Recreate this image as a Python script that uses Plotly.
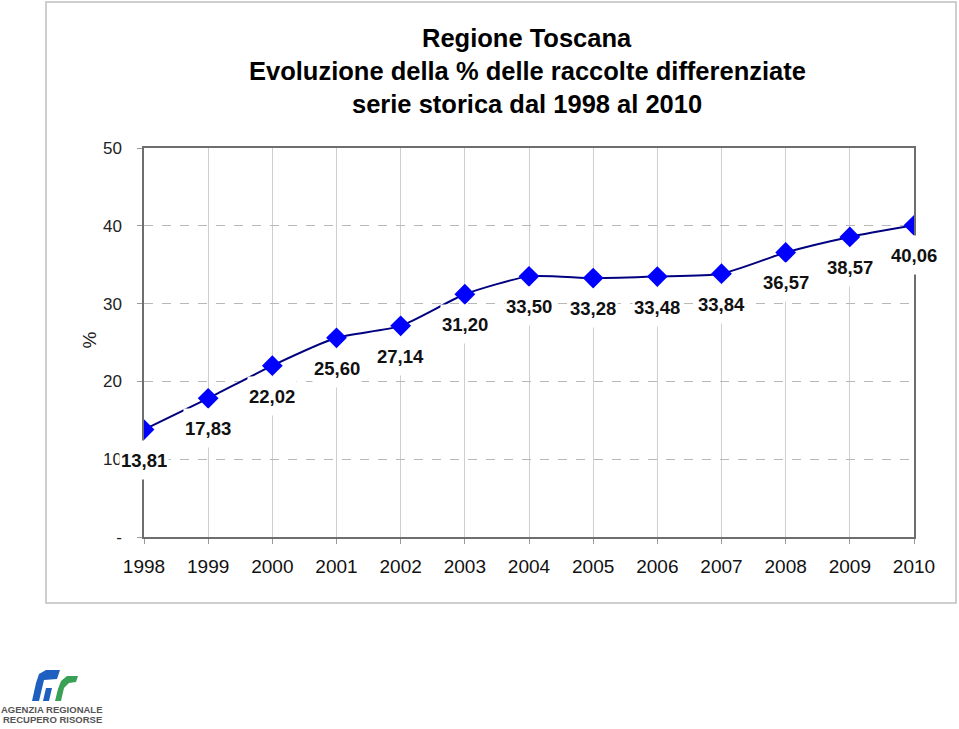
import plotly.graph_objects as go

years = [1998, 1999, 2000, 2001, 2002, 2003, 2004, 2005, 2006, 2007, 2008, 2009, 2010]
values = [13.81, 17.83, 22.02, 25.60, 27.14, 31.20, 33.50, 33.28, 33.48, 33.84, 36.57, 38.57, 40.06]
value_labels = ["13,81", "17,83", "22,02", "25,60", "27,14", "31,20", "33,50", "33,28", "33,48", "33,84", "36,57", "38,57", "40,06"]
y_ticks = [0, 10, 20, 30, 40, 50]
y_tick_labels = ["-", "10", "20", "30", "40", "50"]
title_lines = ["Regione Toscana", "Evoluzione della % delle raccolte differenziate", "serie storica dal 1998 al 2010"]

W, H = 959, 729
L, R, T, B = 144, 914, 148, 537
FONT = "Liberation Sans, Arial, sans-serif"

def px(x):
    return (x - L) / (R - L)

def py(y):
    return (B - y) / (B - T)

fig = go.Figure()
fig.add_trace(go.Scatter(
    x=years, y=values, mode="lines+markers",
    line=dict(color="#000080", width=2, shape="spline", smoothing=0.6),
    marker=dict(symbol="diamond", size=16, color="#0000ff", line=dict(width=0)),
    hoverinfo="x+y", showlegend=False,
))

annotations = []
for yr, v, lab in zip(years, values, value_labels):
    annotations.append(dict(
        x=yr, y=v, xref="x", yref="y", text="<b>" + lab + "</b>", showarrow=False,
        yshift=-30, bgcolor="white", borderpad=1, height=36, valign="middle",
        font=dict(family=FONT, size=18.5, color="#111111"),
    ))

title_y = [38, 71, 104]
for line, ty in zip(title_lines, title_y):
    annotations.append(dict(
        x=px(527), y=py(ty), xref="paper", yref="paper", text="<b>" + line + "</b>",
        showarrow=False, xanchor="center", yanchor="middle",
        font=dict(family=FONT, size=25.5, color="#000000"),
    ))

# y axis title
annotations.append(dict(
    x=px(76), y=py(340), xref="paper", yref="paper", text="%", textangle=-90,
    showarrow=False, font=dict(family=FONT, size=19, color="#222222"),
))

# logo text
LOGO_FONT = "Liberation Sans Narrow, Liberation Sans, Arial"
annotations.append(dict(
    x=px(52), y=py(709), xref="paper", yref="paper", text="<b>AGENZIA REGIONALE</b>",
    showarrow=False, xanchor="center", yanchor="middle",
    font=dict(family=LOGO_FONT, size=9.5, color="#555555"),
))
annotations.append(dict(
    x=px(52), y=py(719), xref="paper", yref="paper", text="<b>RECUPERO RISORSE</b>",
    showarrow=False, xanchor="center", yanchor="middle",
    font=dict(family=LOGO_FONT, size=9.5, color="#555555"),
))

def path(points):
    return "M " + " L ".join(f"{px(x):.5f},{py(y):.5f}" for x, y in points) + " Z"

shapes = [
    # outer frame
    dict(type="rect", xref="paper", yref="paper", x0=px(46), x1=px(956), y0=py(603), y1=py(2),
         line=dict(color="#c0c0c0", width=1.5), fillcolor="rgba(0,0,0,0)", layer="below"),
    # logo blue shape
    dict(type="path", xref="paper", yref="paper",
         path=path([(32, 701), (39, 701), (44, 680), (57, 679), (60, 670), (46, 670), (39, 674), (36, 683)]),
         fillcolor="#1f5fbf", line=dict(width=0)),
    dict(type="path", xref="paper", yref="paper",
         path=path([(43, 701), (49, 701), (52, 688), (46, 688)]),
         fillcolor="#1f5fbf", line=dict(width=0)),
    # logo green shape
    dict(type="path", xref="paper", yref="paper",
         path=path([(55, 701), (61, 701), (64, 688), (69, 683), (76, 682), (78, 676), (67, 676), (61, 681), (58, 689)]),
         fillcolor="#3aa055", line=dict(width=0)),
]

fig.update_layout(
    width=W, height=H,
    margin=dict(l=L, r=W - R, t=T, b=H - B, pad=0),
    paper_bgcolor="white", plot_bgcolor="white",
    annotations=annotations, shapes=shapes,
    xaxis=dict(
        range=[1998, 2010], tickmode="array", tickvals=years, ticktext=[str(y) for y in years],
        showgrid=True, gridcolor="#cfcfcf", gridwidth=1,
        showline=True, linecolor="#6e6e6e", linewidth=1.5, mirror=True,
        ticks="outside", ticklen=5, tickcolor="#9a9a9a",
        ticklabelstandoff=6,
        tickfont=dict(family=FONT, size=19, color="#111111"),
        zeroline=False, fixedrange=True,
    ),
    yaxis=dict(
        range=[0, 50], tickmode="array", tickvals=y_ticks, ticktext=y_tick_labels,
        showgrid=True, gridcolor="#b8b8b8", gridwidth=1, griddash="dash",
        showline=True, linecolor="#6e6e6e", linewidth=1.5, mirror=True,
        ticks="outside", ticklen=5, tickcolor="#9a9a9a",
        ticklabelstandoff=12,
        tickfont=dict(family=FONT, size=17, color="#222222"),
        zeroline=False, fixedrange=True,
    ),
)

fig.write_html("out.html", config={"displayModeBar": False},
               post_script="document.body.style.margin='0px';document.body.style.overflow='hidden';")
